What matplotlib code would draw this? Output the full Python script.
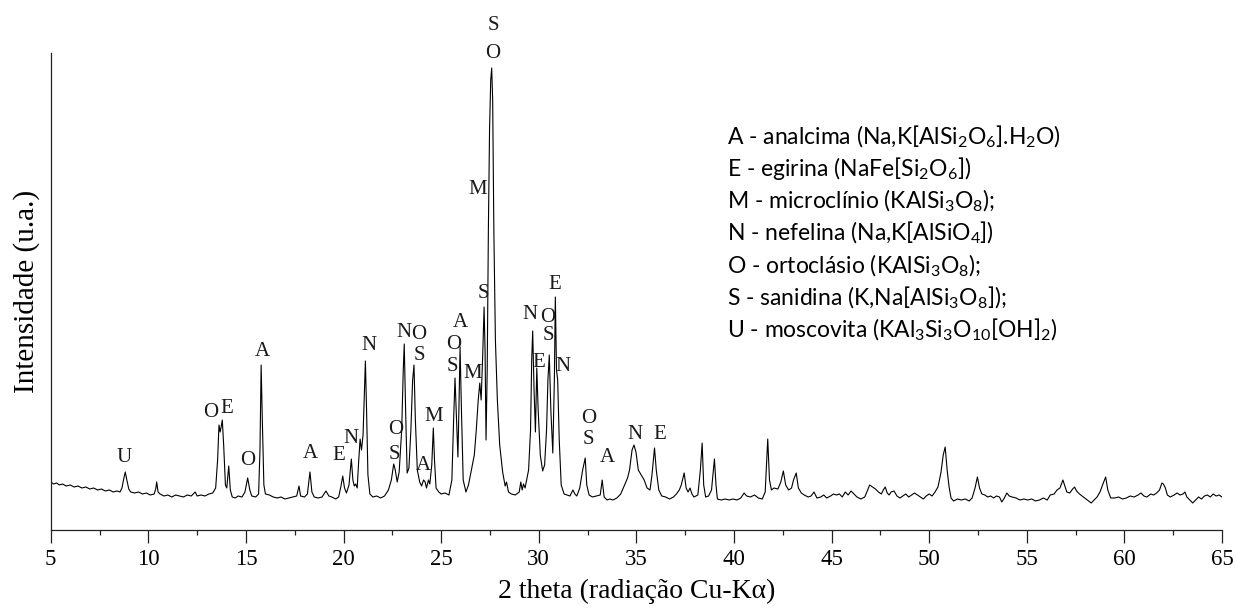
import matplotlib
matplotlib.use('Agg')
import matplotlib.pyplot as plt
from matplotlib.ticker import MultipleLocator

# XRD pattern (2 theta in degrees, intensity in a.u.)
two_theta = [
    5.00, 5.15, 5.30, 5.45, 5.60, 5.80, 6.00, 6.20, 6.40, 6.60, 6.80, 7.00, 7.20, 7.40,
    7.60, 7.80, 8.00, 8.20, 8.40, 8.55, 8.65, 8.75, 8.82, 8.90, 9.00, 9.10, 9.30, 9.50,
    9.70, 9.90, 10.10, 10.30, 10.38, 10.43, 10.50, 10.60, 10.80, 11.00, 11.20, 11.40,
    11.60, 11.80, 12.00, 12.20, 12.40, 12.50, 12.70, 12.90, 13.10, 13.30, 13.45, 13.55,
    13.62, 13.68, 13.73, 13.79, 13.86, 13.95, 14.02, 14.12, 14.20, 14.30, 14.45, 14.60,
    14.80, 14.95, 15.09, 15.20, 15.30, 15.50, 15.65, 15.72, 15.78, 15.84, 15.92, 16.00,
    16.20, 16.40, 16.60, 16.80, 17.00, 17.20, 17.40, 17.60, 17.72, 17.80, 18.00, 18.15,
    18.28, 18.38, 18.50, 18.70, 18.90, 19.10, 19.25, 19.40, 19.60, 19.75, 19.88, 19.96,
    20.05, 20.15, 20.28, 20.40, 20.48, 20.55, 20.62, 20.70, 20.78, 20.85, 20.92, 21.00,
    21.07, 21.12, 21.18, 21.25, 21.35, 21.50, 21.70, 21.90, 22.10, 22.30, 22.45, 22.57,
    22.65, 22.75, 22.85, 22.98, 23.06, 23.11, 23.18, 23.26, 23.35, 23.45, 23.54, 23.61,
    23.68, 23.78, 23.90, 24.00, 24.10, 24.18, 24.25, 24.35, 24.42, 24.52, 24.60, 24.66,
    24.74, 24.88, 25.00, 25.20, 25.40, 25.55, 25.64, 25.71, 25.78, 25.86, 25.92, 25.97,
    26.04, 26.13, 26.27, 26.40, 26.55, 26.70, 26.80, 26.90, 26.98, 27.05, 27.13, 27.20,
    27.25, 27.30, 27.36, 27.42, 27.48, 27.54, 27.59, 27.64, 27.70, 27.78, 27.88, 28.00,
    28.15, 28.28, 28.35, 28.45, 28.60, 28.80, 29.00, 29.08, 29.15, 29.22, 29.30, 29.38,
    29.48, 29.58, 29.64, 29.69, 29.76, 29.83, 29.90, 29.97, 30.08, 30.20, 30.30, 30.40,
    30.47, 30.54, 30.62, 30.72, 30.80, 30.85, 30.91, 30.97, 31.05, 31.15, 31.30, 31.45,
    31.60, 31.75, 31.85, 31.95, 32.10, 32.25, 32.38, 32.46, 32.58, 32.75, 32.95, 33.15,
    33.25, 33.35, 33.50, 33.65, 33.80, 34.00, 34.20, 34.40, 34.55, 34.65, 34.78, 34.88,
    34.98, 35.10, 35.25, 35.40, 35.55, 35.70, 35.80, 35.93, 36.02, 36.15, 36.30, 36.50,
    36.70, 36.90, 37.05, 37.20, 37.30, 37.45, 37.55, 37.65, 37.75, 37.85, 37.95, 38.15,
    38.28, 38.37, 38.45, 38.55, 38.70, 38.85, 39.00, 39.08, 39.15, 39.35, 39.55, 39.75,
    39.95, 40.15, 40.35, 40.52, 40.65, 40.85, 41.05, 41.25, 41.45, 41.60, 41.73, 41.82,
    41.92, 42.05, 42.25, 42.40, 42.53, 42.65, 42.80, 42.95, 43.05, 43.19, 43.30, 43.45,
    43.60, 43.80, 43.95, 44.10, 44.25, 44.45, 44.60, 44.75, 44.95, 45.10, 45.25, 45.40,
    45.55, 45.70, 45.85, 46.00, 46.15, 46.30, 46.50, 46.70, 46.85, 46.95, 47.10, 47.25,
    47.40, 47.55, 47.65, 47.75, 47.85, 47.95, 48.05, 48.20, 48.35, 48.50, 48.65, 48.80,
    48.95, 49.10, 49.25, 49.40, 49.55, 49.70, 49.85, 50.00, 50.15, 50.30, 50.45, 50.60,
    50.72, 50.82, 50.92, 51.02, 51.12, 51.25, 51.45, 51.65, 51.85, 52.05, 52.20, 52.35,
    52.47, 52.58, 52.70, 52.85, 53.00, 53.15, 53.30, 53.45, 53.60, 53.72, 53.85, 53.98,
    54.10, 54.25, 54.45, 54.65, 54.85, 55.05, 55.25, 55.45, 55.65, 55.85, 56.05, 56.20,
    56.40, 56.55, 56.70, 56.85, 56.95, 57.05, 57.20, 57.35, 57.45, 57.55, 57.70, 57.90,
    58.10, 58.30, 58.45, 58.60, 58.75, 58.90, 59.04, 59.15, 59.30, 59.50, 59.70, 59.90,
    60.10, 60.30, 60.50, 60.70, 60.85, 61.00, 61.15, 61.35, 61.50, 61.65, 61.80, 61.92,
    62.00, 62.10, 62.20, 62.35, 62.55, 62.70, 62.85, 63.00, 63.10, 63.20, 63.35, 63.50,
    63.65, 63.80, 63.95, 64.10, 64.25, 64.40, 64.55, 64.70, 64.85, 65.00,
]
intensity = [
    48, 46, 47, 45, 46, 44, 45, 43, 44, 42, 43, 41, 42, 40,
    41, 39, 40, 38, 39, 38, 42, 52, 58, 50, 41, 38, 37, 38,
    36, 37, 35, 36, 41, 48, 38, 36, 34, 35, 33, 35,
    34, 33, 35, 34, 38, 34, 35, 34, 36, 37, 42, 70,
    105, 98, 103, 110, 85, 45, 42, 64, 40, 33, 32, 34,
    33, 38, 52, 40, 34, 33, 36, 80, 165, 110, 45, 36,
    35, 33, 32, 33, 31, 32, 33, 34, 44, 34, 33, 36,
    58, 38, 33, 32, 33, 39, 34, 33, 31, 33, 45, 54,
    42, 37, 45, 71, 50, 44, 46, 42, 70, 91, 80, 95,
    140, 169, 120, 55, 36, 33, 34, 32, 34, 40, 50, 66,
    60, 48, 58, 100, 160, 186, 120, 57, 62, 100, 150, 165,
    110, 60, 48, 44, 50, 48, 42, 50, 46, 65, 102, 70,
    42, 38, 36, 37, 35, 50, 110, 152, 115, 73, 130, 183,
    120, 50, 38, 45, 60, 75, 100, 130, 147, 130, 175, 223,
    180, 90, 160, 300, 400, 450, 462, 430, 300, 190, 130, 85,
    58, 44, 48, 38, 36, 35, 38, 48, 40, 46, 42, 50,
    60, 100, 170, 199, 140, 98, 162, 120, 75, 59, 65, 100,
    150, 175, 120, 77, 150, 233, 160, 150, 90, 45, 36, 35,
    34, 40, 36, 34, 42, 60, 72, 45, 35, 33, 34, 35,
    50, 33, 30, 31, 30, 32, 36, 45, 52, 60, 80, 85,
    78, 60, 55, 50, 42, 40, 55, 82, 60, 40, 34, 33,
    31, 33, 36, 40, 45, 57, 42, 38, 42, 36, 33, 35,
    60, 87, 45, 33, 34, 40, 71, 45, 31, 30, 31, 30,
    31, 30, 32, 37, 34, 33, 35, 32, 31, 38, 91, 50,
    40, 42, 41, 48, 59, 45, 40, 42, 50, 57, 42, 37,
    35, 33, 34, 38, 32, 33, 35, 32, 34, 36, 35, 36,
    33, 38, 35, 39, 36, 33, 31, 33, 40, 45, 43, 41,
    38, 36, 40, 43, 37, 35, 38, 39, 34, 32, 34, 36,
    33, 35, 37, 35, 33, 31, 34, 36, 34, 38, 43, 57,
    75, 83, 60, 43, 32, 29, 31, 30, 31, 29, 32, 42,
    53, 42, 36, 35, 33, 34, 32, 34, 33, 28, 32, 37,
    34, 33, 32, 30, 31, 30, 31, 29, 30, 32, 30, 35,
    36, 40, 42, 50, 44, 38, 37, 41, 43, 39, 36, 33,
    30, 27, 30, 33, 38, 46, 53, 40, 32, 32, 33, 31,
    32, 34, 33, 35, 37, 34, 33, 36, 35, 37, 40, 47,
    46, 42, 35, 33, 35, 37, 35, 36, 38, 33, 30, 27,
    30, 33, 31, 34, 35, 33, 36, 34, 35, 33,
]

# phase letters marked above the peaks
peak_labels = ['U', 'O', 'E', 'O', 'A', 'A', 'E', 'N', 'N', 'O', 'S', 'N', 'O', 'S',
               'A', 'M', 'O', 'S', 'A', 'M', 'S', 'M', 'S', 'O', 'N', 'E', 'O', 'S',
               'E', 'N', 'O', 'S', 'A', 'N', 'E']
label_theta = [8.76, 13.20, 14.02, 15.11, 15.82, 18.28, 19.77, 20.38, 21.31, 22.69, 22.59,
               23.10, 23.87, 23.87, 24.07, 24.64, 25.66, 25.56, 25.97, 26.63, 27.15, 26.89,
               27.66, 27.66, 29.56, 30.01, 30.48, 30.48, 30.84, 31.24, 32.58, 32.53, 33.50,
               34.93, 36.21]
label_height = [73, 118, 122, 70, 179, 77, 75, 92, 185, 101, 76, 198, 196, 175, 65, 114,
                186, 164, 208, 157, 237, 341, 505, 477, 216, 168, 213, 195, 246, 164, 112,
                91, 73, 96, 96]

phases = [
    'A - analcima (Na,K[AlSi$_2$O$_6$].H$_2$O)',
    'E - egirina (NaFe[Si$_2$O$_6$])',
    'M - microclínio (KAlSi$_3$O$_8$);',
    'N - nefelina (Na,K[AlSiO$_4$])',
    'O - ortoclásio (KAlSi$_3$O$_8$);',
    'S - sanidina (K,Na[AlSi$_3$O$_8$]);',
    'U - moscovita (KAl$_3$Si$_3$O$_{10}$[OH]$_2$)',
]

serif = ['Liberation Serif', 'DejaVu Serif']
plt.rcParams['mathtext.fontset'] = 'custom'
plt.rcParams['mathtext.rm'] = 'Lato'
plt.rcParams['mathtext.it'] = 'Lato:italic'
plt.rcParams['mathtext.bf'] = 'Lato:bold'

W, H = 1236, 609
fig = plt.figure(figsize=(W / 100, H / 100), dpi=100)
ax = fig.add_axes([50.7 / W, 1 - 530 / H, (1222 - 50.7) / W, (530 - 52.7) / H])

ax.plot(two_theta, intensity, color='black', lw=0.8)
ax.set_xlim(5, 65)
ax.set_ylim(0, 477.3)

ax.spines['top'].set_visible(False)
ax.spines['right'].set_visible(False)
for s in ['left', 'bottom']:
    ax.spines[s].set_color('#222222')
    ax.spines[s].set_linewidth(0.9)

ax.set_yticks([])
ax.xaxis.set_major_locator(MultipleLocator(5))
ax.xaxis.set_minor_locator(MultipleLocator(2.5))
ax.tick_params(axis='x', which='major', length=9, width=0.9, color='#222222', pad=5,
               labelsize=16.5)
ax.tick_params(axis='x', which='minor', length=3.6, width=0.9, color='#222222')
for lab in ax.get_xticklabels():
    lab.set_family(serif)

ax.set_xlabel('2 theta (radiação Cu-K\u03b1)', family=serif, fontsize=20, labelpad=6)
ax.set_ylabel('Intensidade (u.a.)', family=serif, fontsize=21, labelpad=8)

for txt, tx, ty in zip(peak_labels, label_theta, label_height):
    ax.text(tx, ty, txt, family=serif, fontsize=15, ha='center', va='center',
            color='#1a1a1a', clip_on=False)

for i, line in enumerate(phases):
    fig.text(727 / W, 1 - (144 + i * 32.3) / H, line, family=['Lato', 'DejaVu Sans'],
             fontsize=16.5, ha='left', va='baseline', color='black')

fig.savefig('out.png', dpi=100)
